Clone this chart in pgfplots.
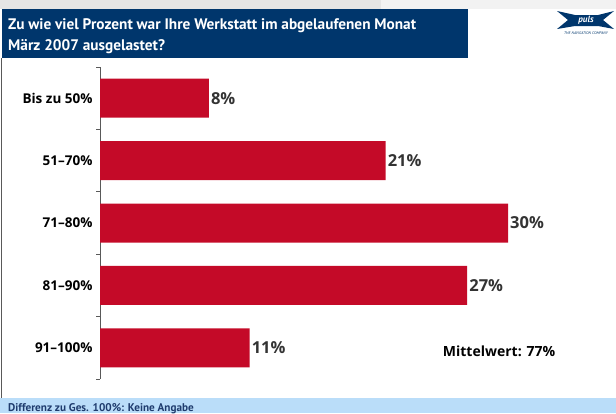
\documentclass[border=0pt]{standalone}
\usepackage{pgfplots}
\pgfplotsset{compat=1.18}
\usepackage{fontspec}
\setmainfont{PT Sans}
\newfontfamily\lblfont{Open Sans}
\definecolor{titleblue}{HTML}{00366C}
\definecolor{barred}{HTML}{C40A28}
\definecolor{bandblue}{HTML}{BADDF9}
\definecolor{footblue}{HTML}{1F3C6E}
\definecolor{lbl}{HTML}{333333}
\begin{document}
\begin{tikzpicture}[x=1pt,y=1pt]
\path (0,0) rectangle (616,-413);
% top strip
\fill[gray!20] (0,0) rectangle (381,-9);
\fill[gray!10] (381,0) rectangle (616,-9);
% title band
\fill[titleblue] (2,-9) rectangle (468,-58);
\node[anchor=base west,text=white,font=\bfseries\fontsize{15.3}{18}\selectfont,inner sep=0] at (8,-29) {Zu wie viel Prozent war Ihre Werkstatt im abgelaufenen Monat};
\node[anchor=base west,text=white,font=\bfseries\fontsize{15.3}{18}\selectfont,inner sep=0] at (8,-50) {März 2007 ausgelastet?};
% logo
\fill[titleblue] (557,-11) -- (575,-15) -- (598,-15) -- (614,-11) -- (603,-20) -- (614,-29) -- (598,-26) -- (575,-26) -- (557,-29) -- (568,-20) -- cycle;
\node[text=white,font=\bfseries\itshape\fontsize{9}{10}\selectfont,inner sep=0] at (586,-20.5) {puls};
\node[text=titleblue,font=\itshape\fontsize{3.8}{4}\selectfont,inner sep=0] at (586,-33) {THE NAVIGATION COMPANY};
% left border
\draw[gray!70!black,line width=1pt] (1.5,-58) -- (1.5,-398);
% bottom band
\fill[bandblue] (0,-398) rectangle (616,-413);
\node[anchor=base west,text=footblue,font=\bfseries\fontsize{11.2}{13}\selectfont,inner sep=0] at (8,-411) {Differenz zu Ges. 100\%: Keine Angabe};
\begin{axis}[
  at={(100pt,-379pt)}, anchor=south west,
  scale only axis, width=503.2pt, height=312pt,
  xmin=0, xmax=37, ymin=0.5, ymax=5.5, y dir=reverse,
  axis x line=none, axis y line*=left,
  y axis line style={gray!70!black, line width=0.8pt},
  xbar, bar width=39pt, bar shift=0pt,
  ytick={1,2,3,4,5},
  yticklabels={Bis zu 50\%,51–70\%,71–80\%,81–90\%,91–100\%},
  major tick length=0pt,
  minor ytick={0.5,1.5,2.5,3.5,4.5,5.5},
  minor tick length=4pt, tick align=outside,
  minor tick style={gray!70!black, line width=0.8pt},
  yticklabel style={font=\lblfont\bfseries\fontsize{13.5}{16}\selectfont, text=black},
  yticklabel style={xshift=-4pt},
  /pgf/number format/assume math mode=true,
  nodes near coords={\pgfmathprintnumber{\pgfplotspointmeta}\%},
  nodes near coords style={font=\lblfont\bfseries\fontsize{16.5}{19}\selectfont, text=lbl, inner sep=2pt, anchor=west},
  point meta=x,
]
\addplot[fill=barred, draw=none] coordinates {(8,1) (21,2) (30,3) (27,4) (11,5)};
\node[anchor=west, font=\lblfont\bfseries\fontsize{14}{16}\selectfont, inner sep=0] at (axis cs:25.2,5.05) {Mittelwert: 77\%};
\end{axis}
\end{tikzpicture}
\end{document}
